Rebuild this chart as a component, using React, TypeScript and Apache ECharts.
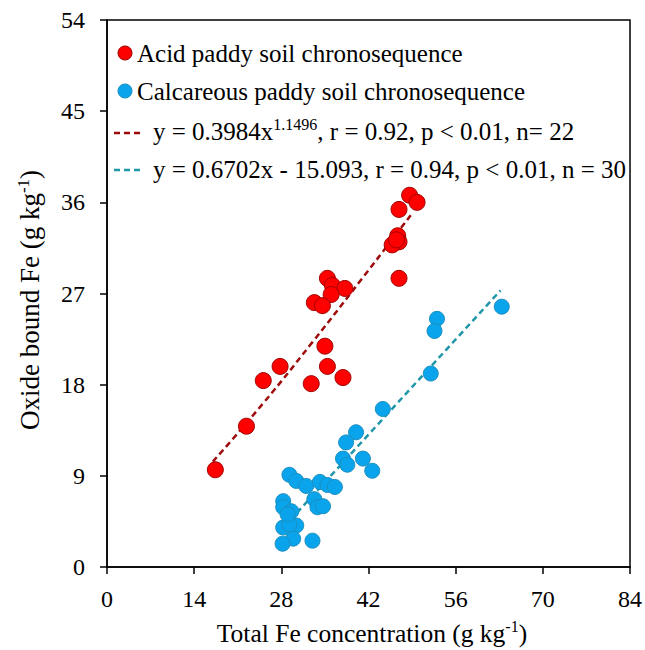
import React, { useEffect, useRef } from 'react';
import * as echarts from 'echarts';

const xTicks = [0, 14, 28, 42, 56, 70, 84];
const yTicks = [0, 9, 18, 27, 36, 45, 54];

const acidX = [48.6, 49.8, 46.9, 46.7, 46.9, 45.8, 46.5, 46.9, 35.4, 36.2, 38.2, 36.0, 33.3, 34.6, 35.0, 27.8, 35.4, 25.1, 32.8, 37.9, 17.4, 22.4];
const acidY = [36.7, 36.0, 35.3, 32.7, 32.1, 31.8, 32.3, 28.5, 28.5, 27.8, 27.5, 26.9, 26.1, 25.8, 21.8, 19.8, 19.8, 18.4, 18.1, 18.7, 9.6, 13.9];

const calcX = [63.4, 53.0, 52.6, 52.0, 44.3, 40.0, 38.4, 37.9, 38.6, 41.1, 42.6, 29.3, 30.4, 32.0, 34.2, 35.4, 36.6, 33.3, 33.8, 34.7, 28.3, 28.3, 29.6, 30.4, 28.3, 29.9, 28.2, 33.0, 29.3, 29.0];
const calcY = [25.7, 24.5, 23.3, 19.1, 15.6, 13.3, 12.3, 10.7, 10.1, 10.7, 9.5, 9.1, 8.5, 8.0, 8.4, 8.1, 7.9, 6.7, 5.9, 6.0, 6.5, 5.9, 5.5, 4.1, 3.9, 2.8, 2.3, 2.6, 4.2, 5.2];

const acidFitX = [17, 25, 33, 41, 49];
const acidFitY = [10.4, 16.1, 22.2, 28.5, 34.9];
const calcFitX = [30.5, 63.2];
const calcFitY = [5.35, 27.3];

const FONT = 'Liberation Serif';
const FS = 25;

const zip = (xs: number[], ys: number[]) => xs.map((x, i) => [x, ys[i]]);

const mkRich = (fs: number, sfs: number) => ({
  a: { fontSize: fs, fontFamily: FONT, color: '#000', lineHeight: fs + 4, verticalAlign: 'middle' },
  s: { fontSize: sfs, fontFamily: FONT, color: '#000', lineHeight: sfs, verticalAlign: 'top' },
});

export default function App() {
  const ref = useRef<HTMLDivElement>(null);
  useEffect(() => {
    document.body.style.margin = '0';
    const chart = echarts.init(ref.current!, null, { renderer: 'svg' });
    chart.setOption({
      animation: false,
      backgroundColor: '#fff',
      textStyle: { fontFamily: FONT },
      grid: { left: 107, right: 13, top: 20, bottom: 83, show: true, borderColor: '#000', borderWidth: 1.5 },
      xAxis: {
        type: 'value', min: xTicks[0], max: xTicks[xTicks.length - 1], interval: 14,
        axisLine: { lineStyle: { color: '#000', width: 1.5 } },
        axisTick: { show: true, inside: false, length: 7, lineStyle: { color: '#000', width: 1.5 } },
        axisLabel: { fontSize: 24, fontFamily: FONT, color: '#000', margin: 20 },
        splitLine: { show: false },
      },
      yAxis: {
        type: 'value', min: yTicks[0], max: yTicks[yTicks.length - 1], interval: 9,
        axisLine: { show: true, lineStyle: { color: '#000', width: 1.5 } },
        axisTick: { show: true, inside: false, length: 7, lineStyle: { color: '#000', width: 1.5 } },
        axisLabel: { fontSize: 24, fontFamily: FONT, color: '#000', margin: 22 },
        splitLine: { show: false },
      },
      graphic: [
        { type: 'circle', shape: { cx: 125, cy: 53, r: 7 }, style: { fill: '#ff0000', stroke: '#a00000', lineWidth: 1 } },
        { type: 'text', x: 137, y: 53, style: { text: 'Acid paddy soil chronosequence', fontSize: FS, fontFamily: FONT, fill: '#000', verticalAlign: 'middle' } },
        { type: 'circle', shape: { cx: 125, cy: 91, r: 7 }, style: { fill: '#0aa4ec', stroke: '#1b8fbf', lineWidth: 1 } },
        { type: 'text', x: 137, y: 91, style: { text: 'Calcareous paddy soil chronosequence', fontSize: FS, fontFamily: FONT, fill: '#000', verticalAlign: 'middle' } },
        { type: 'line', shape: { x1: 114, y1: 133, x2: 140, y2: 133 }, style: { stroke: '#9e0b0b', lineWidth: 2.5, lineDash: [6, 4] } },
        { type: 'text', x: 153, y: 131, style: { text: '{a|y = 0.3984x}{s|1.1496}{a|, r = 0.92, p < 0.01, n= 22}', rich: mkRich(FS, 16), verticalAlign: 'middle' } },
        { type: 'line', shape: { x1: 114, y1: 170, x2: 140, y2: 170 }, style: { stroke: '#1f97a8', lineWidth: 2.5, lineDash: [6, 4] } },
        { type: 'text', x: 153, y: 169, style: { text: 'y = 0.6702x - 15.093, r = 0.94, p < 0.01, n = 30', fontSize: FS, fontFamily: FONT, fill: '#000', verticalAlign: 'middle' } },
        { type: 'text', x: 372, y: 633, style: { text: '{a|Total Fe concentration (g kg}{s|-1}{a|)}', rich: mkRich(25.5, 16), align: 'center', verticalAlign: 'middle' } },
        { type: 'text', x: 30, y: 300, rotation: Math.PI / 2, style: { text: '{a|Oxide bound Fe (g kg}{s|-1}{a|)}', rich: mkRich(27, 17), align: 'center', verticalAlign: 'middle' } },
      ],
      series: [
        {
          type: 'line', data: zip(acidFitX, acidFitY), showSymbol: false, symbol: 'none', smooth: true,
          lineStyle: { color: '#9e0b0b', width: 2.5, type: [6, 4] }, z: 1,
        },
        {
          type: 'line', data: zip(calcFitX, calcFitY), showSymbol: false, symbol: 'none',
          lineStyle: { color: '#1f97a8', width: 2.5, type: [6, 4] }, z: 1,
        },
        {
          type: 'scatter', data: zip(acidX, acidY), symbolSize: 16,
          itemStyle: { color: '#ff0000', borderColor: '#a00000', borderWidth: 1, opacity: 1 }, z: 2,
        },
        {
          type: 'scatter', data: zip(calcX, calcY), symbolSize: 15,
          itemStyle: { color: '#0aa4ec', borderColor: '#1b8fbf', borderWidth: 1, opacity: 1 }, z: 2,
        },
      ],
    });
    return () => chart.dispose();
  }, []);
  return <div ref={ref} style={{ width: 645, height: 650 }} />;
}
